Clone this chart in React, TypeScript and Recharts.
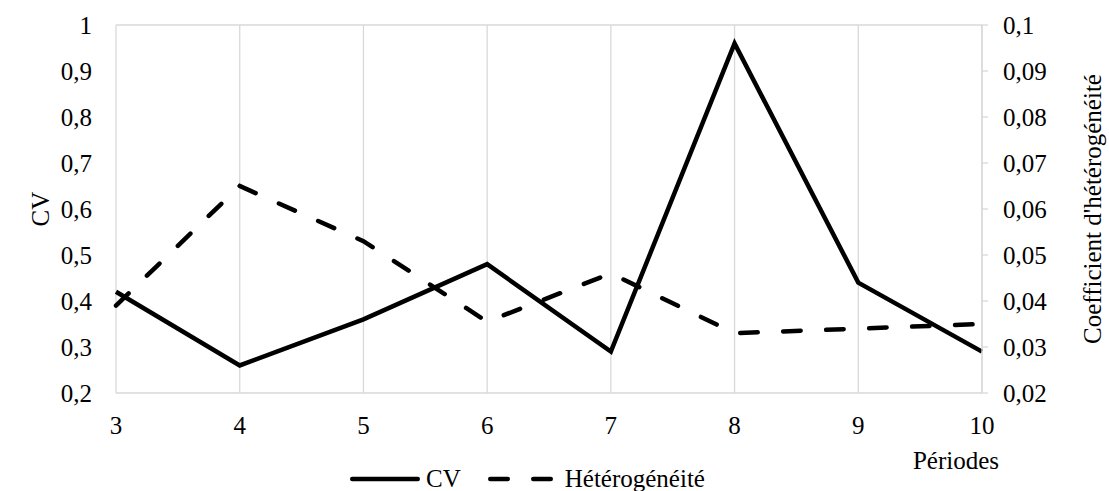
import React from 'react'
import { LineChart, Line, XAxis, YAxis, CartesianGrid, Legend } from 'recharts'

const periods = ['3', '4', '5', '6', '7', '8', '9', '10']
const cvValues = [0.42, 0.26, 0.36, 0.48, 0.29, 0.96, 0.44, 0.29]
const hetValues = [0.039, 0.065, 0.053, 0.0355, 0.046, 0.033, 0.034, 0.035]
const cvTicks = [0.2, 0.3, 0.4, 0.5, 0.6, 0.7, 0.8, 0.9, 1]
const hetTicks = [0.02, 0.03, 0.04, 0.05, 0.06, 0.07, 0.08, 0.09, 0.1]

const data = periods.map((p, i) => ({ period: p, cv: cvValues[i], het: hetValues[i] }))

const FONT = '"Liberation Serif", "Times New Roman", serif'
const FS = 25
const GRID = '#d9d9d9'
const DASH = '17.5 25.5'

const fmt = (v: number) => String(v).replace('.', ',')

function LegendContent() {
  return (
    <div style={{ display: 'flex', alignItems: 'center', height: 24, fontFamily: FONT, fontSize: FS, color: '#000', lineHeight: '24px' }}>
      <svg width={70} height={10} style={{ display: 'block' }}>
        <line x1={2.25} y1={5} x2={67.75} y2={5} stroke="#000" strokeWidth={4.5} strokeLinecap="round" />
      </svg>
      <span style={{ marginLeft: 6 }}>CV</span>
      <svg width={65} height={10} style={{ display: 'block', marginLeft: 27 }}>
        <line x1={2.25} y1={5} x2={62.75} y2={5} stroke="#000" strokeWidth={4.5} strokeLinecap="round" strokeDasharray={DASH} />
      </svg>
      <span style={{ marginLeft: 12 }}>Hétérogénéité</span>
    </div>
  )
}

export default function App() {
  return (
    <div style={{ position: 'absolute', left: 0, top: 0, width: 1109, height: 491, background: '#fff' }}>
      <LineChart width={1109} height={491} data={data} margin={{ top: 25, right: 0, bottom: 38, left: 0 }}>
        <CartesianGrid stroke={GRID} strokeWidth={1.3} />
        <XAxis
          dataKey="period"
          axisLine={false}
          tickLine={false}
          tickSize={0}
          tickMargin={23}
          height={60}
          tick={{ fill: '#000', fontFamily: FONT, fontSize: FS }}
          label={{
            content: (props: any) => {
              const vb = props.viewBox
              return (
                <text x={vb.x + vb.width - 26} y={vb.y + 76} textAnchor="middle" fill="#000" fontFamily={FONT} fontSize={FS}>
                  Périodes
                </text>
              )
            },
          }}
        />
        <YAxis
          yAxisId="left"
          orientation="left"
          width={116}
          domain={[0.2, 1]}
          ticks={cvTicks}
          tickFormatter={fmt}
          axisLine={false}
          tickLine={false}
          tickSize={0}
          tickMargin={24}
          tick={{ fill: '#000', fontFamily: FONT, fontSize: FS }}
          label={{
            content: (props: any) => {
              const vb = props.viewBox
              const cx = 40
              const cy = vb.y + vb.height / 2
              return (
                <text x={cx} y={cy} transform={`rotate(-90, ${cx}, ${cy})`} textAnchor="middle" dominantBaseline="central" fill="#000" fontFamily={FONT} fontSize={FS}>
                  CV
                </text>
              )
            },
          }}
        />
        <YAxis
          yAxisId="right"
          orientation="right"
          width={127}
          domain={[0.02, 0.1]}
          ticks={hetTicks}
          tickFormatter={fmt}
          axisLine={{ stroke: GRID, strokeWidth: 1.3 }}
          tickLine={{ stroke: GRID, strokeWidth: 1.3 }}
          tickSize={6}
          tickMargin={15}
          tick={{ fill: '#000', fontFamily: FONT, fontSize: FS }}
          label={{
            content: (props: any) => {
              const vb = props.viewBox
              const cx = 1092
              const cy = vb.y + vb.height / 2
              return (
                <text x={cx} y={cy} transform={`rotate(-90, ${cx}, ${cy})`} textAnchor="middle" dominantBaseline="central" fill="#000" fontFamily={FONT} fontSize={FS}>
                  Coefficient d'hétérogénéité
                </text>
              )
            },
          }}
        />
        <Legend
          layout="horizontal"
          align="center"
          verticalAlign="middle"
          content={() => <LegendContent />}
          wrapperStyle={{ position: 'absolute', top: 467, left: 350, width: 'auto', height: 24 }}
        />
        <Line
          yAxisId="left"
          dataKey="cv"
          name="CV"
          stroke="#000"
          strokeWidth={4.5}
          strokeLinejoin="miter"
          dot={false}
          activeDot={false}
          isAnimationActive={false}
        />
        <Line
          yAxisId="right"
          dataKey="het"
          name="Hétérogénéité"
          stroke="#000"
          strokeWidth={4.5}
          strokeDasharray={DASH}
          strokeLinecap="round"
          dot={false}
          activeDot={false}
          isAnimationActive={false}
        />
      </LineChart>
    </div>
  )
}
